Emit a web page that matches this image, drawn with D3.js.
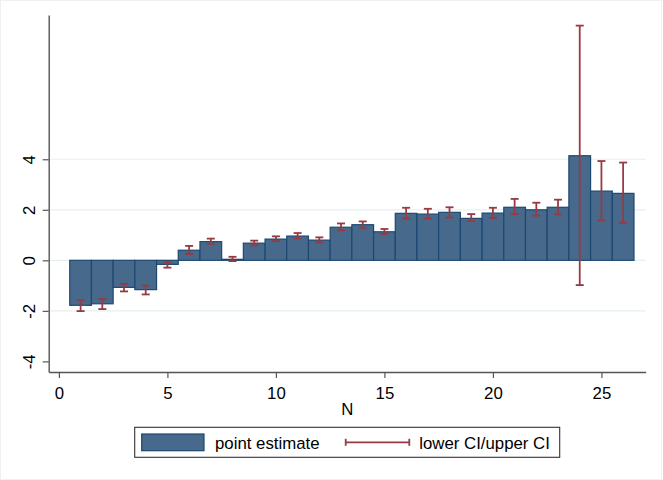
<!DOCTYPE html>
<html>
<head>
<meta charset="utf-8">
<script src="https://cdn.jsdelivr.net/npm/d3@7"></script>
<style>
  body { margin: 0; background: #fff; }
  text { font-family: "Liberation Sans", Arial, sans-serif; }
</style>
</head>
<body>
<div id="wrapper"></div>
<script>
// data
const nValues = [1, 2, 3, 4, 5, 6, 7, 8, 9, 10, 11, 12, 13, 14, 15, 16, 17, 18, 19, 20, 21, 22, 23, 24, 25, 26]
const pointEstimate = [-1.78, -1.72, -1.07, -1.16, -0.16, 0.40, 0.74, 0.04, 0.68, 0.84, 0.96, 0.80, 1.31,
  1.41, 1.13, 1.86, 1.83, 1.90, 1.66, 1.87, 2.10, 2.00, 2.10, 4.14, 2.74, 2.65]
const lowerCI = [-2.01, -1.93, -1.23, -1.35, -0.29, 0.25, 0.65, -0.03, 0.59, 0.76, 0.86, 0.71, 1.19,
  1.29, 1.04, 1.65, 1.65, 1.69, 1.56, 1.68, 1.83, 1.77, 1.82, -0.98, 1.58, 1.48]
const upperCI = [-1.58, -1.53, -0.93, -1.00, -0.08, 0.57, 0.86, 0.14, 0.78, 0.95, 1.08, 0.91, 1.46,
  1.54, 1.24, 2.08, 2.04, 2.10, 1.83, 2.08, 2.43, 2.28, 2.40, 9.29, 3.93, 3.87]
const xTicks = [0, 5, 10, 15, 20, 25]
const yTicks = [-4, -2, 0, 2, 4]
const gridTicks = [-2, 0, 2, 4]
const xTitle = "N"
const legendLabels = ["point estimate", "lower CI/upper CI"]

const rows = nValues.map((n, i) => ({ n, est: pointEstimate[i], lo: lowerCI[i], hi: upperCI[i] }))

const width = 663
const height = 480
const margin = { top: 15, right: 17.3, bottom: 108, left: 48.7 }
const boundedWidth = width - margin.left - margin.right
const boundedHeight = height - margin.top - margin.bottom

const barFill = "#476a8c"
const barStroke = "#1d4872"
const ciColor = "#963a44"
const fontSize = 16.8

const svg = d3.select("#wrapper").append("svg")
    .attr("width", width)
    .attr("height", height)

svg.append("rect")
    .attr("x", 0.5).attr("y", 0.5)
    .attr("width", width - 2).attr("height", height - 1)
    .attr("fill", "#fff")
    .attr("stroke", "#f0f0f0")

const bounds = svg.append("g")
    .attr("transform", `translate(${margin.left},${margin.top})`)

const xScale = d3.scaleLinear()
    .domain([-0.47, 27.04])
    .range([0, boundedWidth])

const yScale = d3.scaleLinear()
    .domain([-4.42, 9.71])
    .range([boundedHeight, 0])

// gridlines
bounds.append("g")
  .selectAll("line")
  .data(gridTicks)
  .join("line")
    .attr("x1", 0)
    .attr("x2", boundedWidth)
    .attr("y1", d => yScale(d))
    .attr("y2", d => yScale(d))
    .attr("stroke", "#e6eff0")
    .attr("stroke-width", 1.2)

// bars
bounds.append("g")
  .selectAll("rect")
  .data(rows)
  .join("rect")
    .attr("x", d => xScale(d.n - 0.5))
    .attr("width", d => xScale(d.n + 0.5) - xScale(d.n - 0.5))
    .attr("y", d => yScale(Math.max(0, d.est)))
    .attr("height", d => Math.abs(yScale(d.est) - yScale(0)))
    .attr("fill", barFill)
    .attr("stroke", barStroke)
    .attr("stroke-width", 1.2)

// confidence intervals
const capHalf = 4
const ci = bounds.append("g")
    .attr("stroke", ciColor)
    .attr("stroke-width", 1.8)
  .selectAll("g")
  .data(rows)
  .join("g")

ci.append("line")
    .attr("x1", d => xScale(d.n))
    .attr("x2", d => xScale(d.n))
    .attr("y1", d => yScale(d.lo))
    .attr("y2", d => yScale(d.hi))
ci.append("line")
    .attr("x1", d => xScale(d.n) - capHalf)
    .attr("x2", d => xScale(d.n) + capHalf)
    .attr("y1", d => yScale(d.lo))
    .attr("y2", d => yScale(d.lo))
ci.append("line")
    .attr("x1", d => xScale(d.n) - capHalf)
    .attr("x2", d => xScale(d.n) + capHalf)
    .attr("y1", d => yScale(d.hi))
    .attr("y2", d => yScale(d.hi))

// axes
const yAxis = bounds.append("g")
    .call(d3.axisLeft(yScale).tickValues(yTicks).tickSize(6).tickSizeOuter(0).tickFormat(d3.format("d")))
yAxis.select(".domain").attr("stroke", "#555").attr("stroke-width", 1.4)
yAxis.selectAll(".tick line").attr("stroke", "#555").attr("stroke-width", 1.2)
yAxis.selectAll(".tick text")
    .attr("transform", "rotate(-90)")
    .attr("x", 0)
    .attr("y", -13.7)
    .attr("dy", 0)
    .attr("text-anchor", "middle")
    .attr("fill", "#000")
    .style("font-size", `${fontSize}px`)
    .text(d => d < 0 ? "-" + Math.abs(d) : d)

const xAxis = bounds.append("g")
    .attr("transform", `translate(0,${boundedHeight})`)
    .call(d3.axisBottom(xScale).tickValues(xTicks).tickSize(6).tickSizeOuter(0))
xAxis.select(".domain").attr("stroke", "#555").attr("stroke-width", 1.4)
xAxis.selectAll(".tick line").attr("stroke", "#555").attr("stroke-width", 1.2)
xAxis.selectAll(".tick text")
    .attr("y", 27.3)
    .attr("dy", 0)
    .attr("fill", "#000")
    .style("font-size", `${fontSize}px`)

bounds.append("text")
    .attr("x", boundedWidth / 2)
    .attr("y", boundedHeight + 43)
    .attr("text-anchor", "middle")
    .style("font-size", `${fontSize}px`)
    .text(xTitle)

// legend
const legend = svg.append("g")
    .attr("transform", "translate(134.7,427.3)")

legend.append("rect")
    .attr("width", 425)
    .attr("height", 30)
    .attr("fill", "#fff")
    .attr("stroke", "#333")
    .attr("stroke-width", 1.1)

legend.append("rect")
    .attr("x", 7)
    .attr("y", 6.7)
    .attr("width", 62.3)
    .attr("height", 16.7)
    .attr("fill", barFill)
    .attr("stroke", barStroke)
    .attr("stroke-width", 1.2)

legend.append("text")
    .attr("x", 80.3)
    .attr("y", 22)
    .style("font-size", `${fontSize}px`)
    .text(legendLabels[0])

const key = legend.append("g")
    .attr("stroke", ciColor)
    .attr("stroke-width", 1.8)
key.append("line").attr("x1", 211).attr("x2", 274.6).attr("y1", 15).attr("y2", 15)
key.append("line").attr("x1", 211).attr("x2", 211).attr("y1", 11.5).attr("y2", 18.5)
key.append("line").attr("x1", 274.6).attr("x2", 274.6).attr("y1", 11.5).attr("y2", 18.5)

legend.append("text")
    .attr("x", 284.6)
    .attr("y", 22)
    .style("font-size", `${fontSize}px`)
    .text(legendLabels[1])
</script>
</body>
</html>
